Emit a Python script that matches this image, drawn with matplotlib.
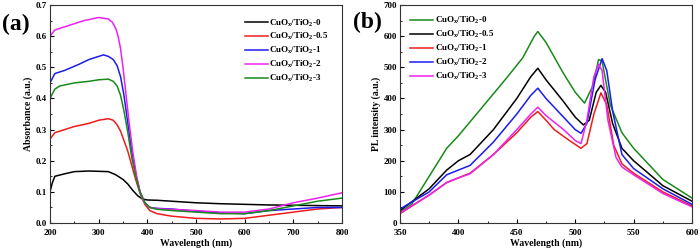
import numpy as np
import matplotlib
matplotlib.use('Agg')
import matplotlib.pyplot as plt
from matplotlib.ticker import MultipleLocator, FormatStrFormatter

plt.rcParams['font.family'] = 'Liberation Serif'
plt.rcParams['font.weight'] = 'bold'
plt.rcParams['mathtext.fontset'] = 'custom'
plt.rcParams['mathtext.rm'] = 'Liberation Serif:bold'
plt.rcParams['mathtext.it'] = 'Liberation Serif:bold'
plt.rcParams['mathtext.bf'] = 'Liberation Serif:bold'

# (a) absorbance spectra
wl_0 = [200, 205, 210, 230, 250, 280, 300, 320, 335, 350, 360, 370, 380, 390, 400, 420, 450, 500, 550, 600, 650, 700, 750, 800]
abs_0 = [0.10, 0.13, 0.15, 0.158, 0.165, 0.167, 0.166, 0.165, 0.155, 0.14, 0.125, 0.105, 0.088, 0.077, 0.074, 0.073, 0.07, 0.065, 0.062, 0.06, 0.058, 0.057, 0.056, 0.055]

wl_05 = [200, 210, 230, 250, 280, 300, 320, 330, 338, 345, 352, 360, 368, 376, 385, 395, 405, 420, 450, 500, 550, 600, 650, 700, 750, 800]
abs_05 = [0.27, 0.29, 0.30, 0.31, 0.32, 0.33, 0.335, 0.33, 0.315, 0.295, 0.265, 0.23, 0.185, 0.14, 0.095, 0.06, 0.04, 0.03, 0.022, 0.015, 0.013, 0.015, 0.025, 0.035, 0.045, 0.05]

wl_1 = [200, 210, 230, 260, 280, 300, 310, 320, 330, 338, 345, 352, 360, 368, 376, 385, 395, 405, 420, 450, 500, 550, 600, 650, 700, 750, 800]
abs_1 = [0.45, 0.48, 0.49, 0.51, 0.525, 0.535, 0.54, 0.535, 0.525, 0.505, 0.47, 0.41, 0.32, 0.23, 0.16, 0.10, 0.065, 0.05, 0.047, 0.045, 0.038, 0.033, 0.03, 0.04, 0.045, 0.05, 0.05]

wl_2 = [200, 210, 230, 250, 270, 300, 320, 328, 335, 340, 345, 350, 355, 362, 370, 378, 385, 392, 400, 410, 430, 500, 550, 600, 650, 700, 750, 800]
abs_2 = [0.60, 0.62, 0.63, 0.64, 0.65, 0.66, 0.655, 0.645, 0.625, 0.60, 0.56, 0.50, 0.43, 0.33, 0.23, 0.15, 0.10, 0.07, 0.055, 0.048, 0.045, 0.04, 0.035, 0.035, 0.045, 0.065, 0.08, 0.097]

wl_3 = [200, 210, 220, 250, 280, 300, 320, 330, 338, 345, 352, 360, 368, 376, 385, 395, 405, 420, 450, 500, 550, 600, 650, 700, 750, 800]
abs_3 = [0.40, 0.43, 0.44, 0.45, 0.455, 0.46, 0.462, 0.455, 0.44, 0.41, 0.36, 0.29, 0.21, 0.15, 0.10, 0.065, 0.05, 0.044, 0.04, 0.035, 0.03, 0.03, 0.04, 0.055, 0.07, 0.08]

# (b) PL spectra
pl_wl_0 = [350, 360, 375, 390, 400, 420, 440, 455, 465, 468, 475, 490, 500, 508, 515, 520, 523, 530, 540, 550, 575, 600]
pl_0 = [35, 60, 150, 240, 280, 370, 460, 530, 600, 615, 580, 480, 420, 385, 440, 525, 520, 380, 290, 240, 140, 80]

pl_wl_05 = [350, 375, 390, 400, 410, 430, 450, 462, 468, 475, 490, 500, 507, 512, 518, 522, 526, 532, 540, 550, 575, 600]
pl_05 = [40, 110, 170, 200, 220, 300, 400, 470, 497, 460, 390, 340, 315, 330, 420, 442, 420, 320, 240, 200, 120, 70]

pl_wl_1 = [350, 375, 390, 400, 410, 430, 450, 462, 468, 475, 482, 495, 505, 510, 516, 522, 527, 533, 540, 550, 575, 600]
pl_1 = [30, 90, 130, 145, 160, 220, 290, 340, 358, 330, 300, 265, 240, 255, 350, 418, 380, 250, 190, 160, 100, 55]

pl_wl_2 = [350, 375, 390, 400, 410, 430, 450, 462, 468, 475, 490, 500, 505, 510, 517, 523, 527, 532, 540, 550, 575, 600]
pl_2 = [45, 100, 155, 170, 185, 260, 350, 410, 433, 400, 340, 300, 288, 320, 460, 528, 490, 360, 220, 175, 110, 60]

pl_wl_3 = [350, 375, 390, 400, 410, 430, 450, 462, 468, 475, 490, 500, 505, 510, 516, 520, 523, 528, 535, 540, 550, 575, 600]
pl_3 = [32, 90, 130, 145, 158, 220, 300, 350, 372, 345, 300, 265, 255, 330, 470, 510, 490, 330, 210, 180, 155, 95, 52]

labels_a = ['0', '0.5', '1', '2', '3']
colors_a = ['black', '#ee1c1c', '#1c1cee', '#ee22ee', '#1a8a1a']
labels_b = ['0', '0.5', '1', '2', '3']
colors_b = ['#1a8a1a', 'black', '#ee1c1c', '#1c1cee', '#ee22ee']


def name(s):
    return r'CuO$_x$/TiO$_2$-' + s


fig = plt.figure(figsize=(7, 2.52), dpi=100)
ax1 = fig.add_axes([0.0714, 0.115, 0.4172, 0.865])
ax2 = fig.add_axes([0.5714, 0.115, 0.4172, 0.865])

for x, y, lab, c in zip([wl_0, wl_05, wl_1, wl_2, wl_3],
                        [abs_0, abs_05, abs_1, abs_2, abs_3], labels_a, colors_a):
    ax1.plot(x, y, color=c, lw=1.1, label=name(lab))

for x, y, lab, c in zip([pl_wl_0, pl_wl_05, pl_wl_1, pl_wl_2, pl_wl_3],
                        [pl_0, pl_05, pl_1, pl_2, pl_3], labels_b, colors_b):
    ax2.plot(x, y, color=c, lw=1.1, label=name(lab))

ax1.set_xlim(200, 800)
ax1.set_ylim(0, 0.7)
ax1.xaxis.set_major_locator(MultipleLocator(100))
ax1.xaxis.set_minor_locator(MultipleLocator(50))
ax1.yaxis.set_major_locator(MultipleLocator(0.1))
ax1.yaxis.set_minor_locator(MultipleLocator(0.05))
ax1.yaxis.set_major_formatter(FormatStrFormatter('%.1f'))
ax1.set_xlabel('Wavelength (nm)', fontsize=7, fontweight='bold', labelpad=1)
ax1.set_ylabel('Absorbance (a.u.)', fontsize=7, fontweight='bold', labelpad=2)

ax2.set_xlim(350, 600)
ax2.set_ylim(0, 700)
ax2.xaxis.set_major_locator(MultipleLocator(50))
ax2.xaxis.set_minor_locator(MultipleLocator(25))
ax2.yaxis.set_major_locator(MultipleLocator(100))
ax2.yaxis.set_minor_locator(MultipleLocator(50))
ax2.set_xlabel('Wavelength (nm)', fontsize=7, fontweight='bold', labelpad=1)
ax2.set_ylabel('PL intensity (a.u.)', fontsize=7, fontweight='bold', labelpad=2)

for ax in [ax1, ax2]:
    ax.tick_params(axis='both', which='both', direction='in', labelsize=6.5)
    ax.tick_params(axis='x', pad=4)
    ax.tick_params(axis='y', pad=2)
    ax.tick_params(which='major', length=3)
    ax.tick_params(which='minor', length=1.5)
    for lbl in ax.get_xticklabels() + ax.get_yticklabels():
        lbl.set_fontweight('bold')
    for sp in ax.spines.values():
        sp.set_linewidth(0.8)
        sp.set_color('#333333')

ax1.legend(loc='upper right', frameon=False, fontsize=6.5, handlelength=2.5,
           handletextpad=0.2, labelspacing=0.3, borderaxespad=0.6,
           bbox_to_anchor=(0.985, 0.985))
ax2.legend(loc='upper left', frameon=False, fontsize=6.5, handlelength=2.5,
           handletextpad=0.2, labelspacing=0.3, borderaxespad=0.6,
           bbox_to_anchor=(0.005, 0.995))

fig.text(0.003, 0.88, '(a)', fontsize=17, fontweight='bold')
fig.text(0.504, 0.89, '(b)', fontsize=17, fontweight='bold')

fig.savefig('out.png', dpi=100)
